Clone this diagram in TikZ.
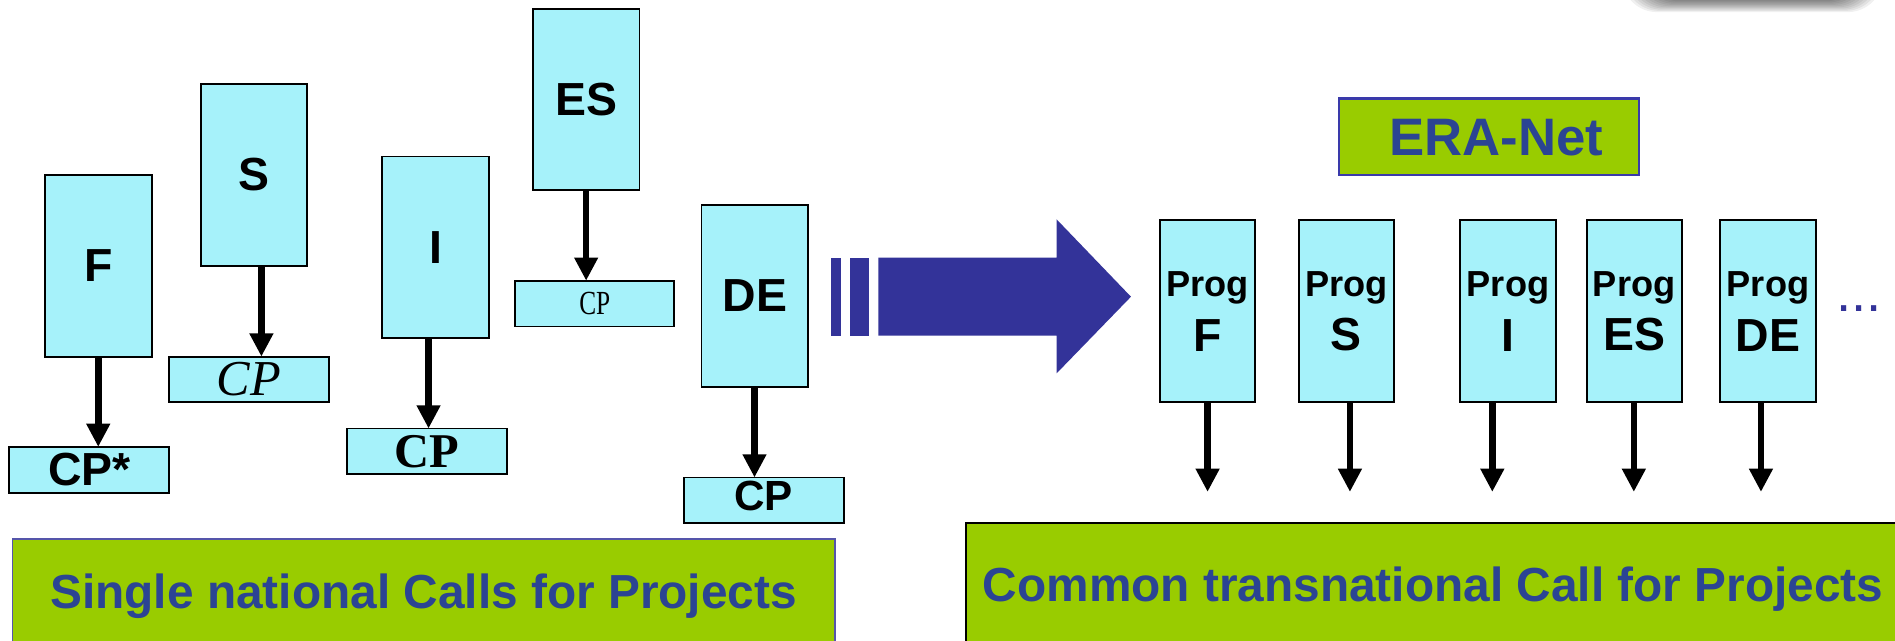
\documentclass[tikz,border=0pt]{standalone}
\usepackage{fontspec}
\usepackage{graphicx}
\setmainfont{Liberation Sans}
\newfontfamily\serifcp{Liberation Serif}
\usetikzlibrary{arrows.meta,calc}
\definecolor{cyanbox}{HTML}{A6F2FA}
\definecolor{grn}{HTML}{99CC00}
\definecolor{navy}{HTML}{2B4493}
\definecolor{arrowblue}{HTML}{333399}
\definecolor{erab}{HTML}{3A3AAA}
\definecolor{lborder}{HTML}{5555AA}
\newcommand\dpx{0.3427pt}
\begin{document}
\begin{tikzpicture}[x=0.012086cm,y=-0.012086cm,
  box/.style={draw=black, line width=0.55pt, fill=cyanbox, inner sep=0pt, outer sep=0pt,
    minimum width=88.6*\dpx, minimum height=150.5*\dpx, font=\fontsize{13.2}{15.6}\selectfont\bfseries},
  cpbox/.style={box, minimum width=133*\dpx, minimum height=38*\dpx},
  prog/.style={box, minimum width=79.1*\dpx, minimum height=150.9*\dpx, align=center},
  arr/.style={line width=1.88pt, -{Triangle[width=6.4pt,length=6.6pt]}},
  greenbox/.style={fill=grn, inner sep=0pt, outer sep=0pt, text=navy,
    font=\fontsize{13.6}{16}\selectfont\bfseries, text height=9.74pt, text depth=0pt}
]
\useasboundingbox (0,0) rectangle (1568,530);
\clip (0,0) rectangle (1568,530);
\fill[white] (0,0) rectangle (1568,530);

% shadow at top right
\foreach \i in {0,...,9}{
  \fill[black, opacity=0.06, rounded corners=10] (1342+2*\i,-30) rectangle (1558-2*\i,10-\i);
}

% left: national boxes
\node[box] (F)  at (81.3,220)  {F};
\node[box] (S)  at (210.2,144.8) {S};
\node[box] (I)  at (360.5,204.5) {I};
\node[box] (ES) at (485,82.2)  {ES};
\node[box] (DE) at (624.6,244.9) {DE};

\node[cpbox] (cpF)  at (73.9,388.7)  {\fontsize{13.2}{15}\selectfont\bfseries CP*};
\node[cpbox] (cpS)  at (206.1,314)   {\serifcp\fontsize{14.3}{16}\selectfont\mdseries\itshape CP};
\node[cpbox] (cpI)  at (353.2,373.5) {\serifcp\fontsize{13.8}{16}\selectfont\bfseries CP};
\node[cpbox, minimum width=132*\dpx] (cpES) at (492.1,251.2) {\scalebox{0.75}[1]{\serifcp\fontsize{9.6}{11}\selectfont\mdseries CP}};
\node[cpbox] (cpDE) at (631.9,414)   {\fontsize{12}{14}\selectfont\bfseries\raisebox{2.4pt}{CP}};

\coordinate (aF)  at ($(F.south)+(0,0)$);
\coordinate (aS)  at ($(S.south)+(6.1,0)$);
\coordinate (aI)  at ($(I.south)+(-5.9,0)$);
\coordinate (aES) at ($(ES.south)+(0,0)$);
\coordinate (aDE) at ($(DE.south)+(-0.3,0)$);
\draw[arr] (aF)  -- (aF |- cpF.north);
\draw[arr] (aS)  -- (aS |- cpS.north);
\draw[arr] (aI)  -- (aI |- cpI.north);
\draw[arr] (aES) -- (aES |- cpES.north);
\draw[arr] (aDE) -- (aDE |- cpDE.north);

% left green box
\node[greenbox, draw=lborder, line width=0.5pt, minimum width=682.7*\dpx, minimum height=87.2*\dpx]
  (nat) at (350.5,489.5) {Single national Calls for Projects};

% big arrow
\fill[arrowblue] (687.6,213.2) rectangle (695.8,277.7);
\fill[arrowblue] (703.3,213.2) rectangle (719,277.7);
\fill[arrowblue] (726.7,213.2) -- (874.3,213.2) -- (874.3,181.5) -- (935.8,245.5)
  -- (874.3,308.9) -- (874.3,277.7) -- (726.7,277.7) -- cycle;

% ERA-Net
\node[greenbox, draw=erab, line width=0.7pt, minimum width=249.3*\dpx, minimum height=63.6*\dpx,
  font=\fontsize{15}{18}\selectfont\bfseries, text height=10.74pt]
  (era) at (1232,113.3) {\hspace{4.1pt}ERA-Net};

% programme boxes
\newcommand\progtxt[1]{{\fontsize{10.3}{12}\selectfont Prog}\\#1}
\node[prog] (pF)  at (999.3,257.5)  {\progtxt{F}};
\node[prog] (pS)  at (1114.1,257.5) {\progtxt{S}};
\node[prog] (pI)  at (1247.8,257.5) {\progtxt{I}};
\node[prog] (pES) at (1352.2,257.5) {\progtxt{ES}};
\node[prog] (pDE) at (1462.9,257.5) {\progtxt{DE}};

\node[text=arrowblue, inner sep=0pt, font=\fontsize{15.5}{18}\selectfont] (dots) at (1538,255) {...};

\coordinate (tF)  at (999.2,407);
\coordinate (tS)  at (1117,407);
\coordinate (tI)  at (1234.8,407);
\coordinate (tES) at (1351.9,407);
\coordinate (tDE) at (1457.1,407);
\draw[arr] (pF.south -| tF)   -- (tF);
\draw[arr] (pS.south -| tS)   -- (tS);
\draw[arr] (pI.south -| tI)   -- (tI);
\draw[arr] (pES.south -| tES) -- (tES);
\draw[arr] (pDE.south -| tDE) -- (tDE);

% right green box
\node[greenbox, draw=black, line width=0.5pt, minimum width=775*\dpx, minimum height=102.2*\dpx]
  (trans) at (1185.8,483.4) {Common transnational Call for Projects};
\end{tikzpicture}
\end{document}
